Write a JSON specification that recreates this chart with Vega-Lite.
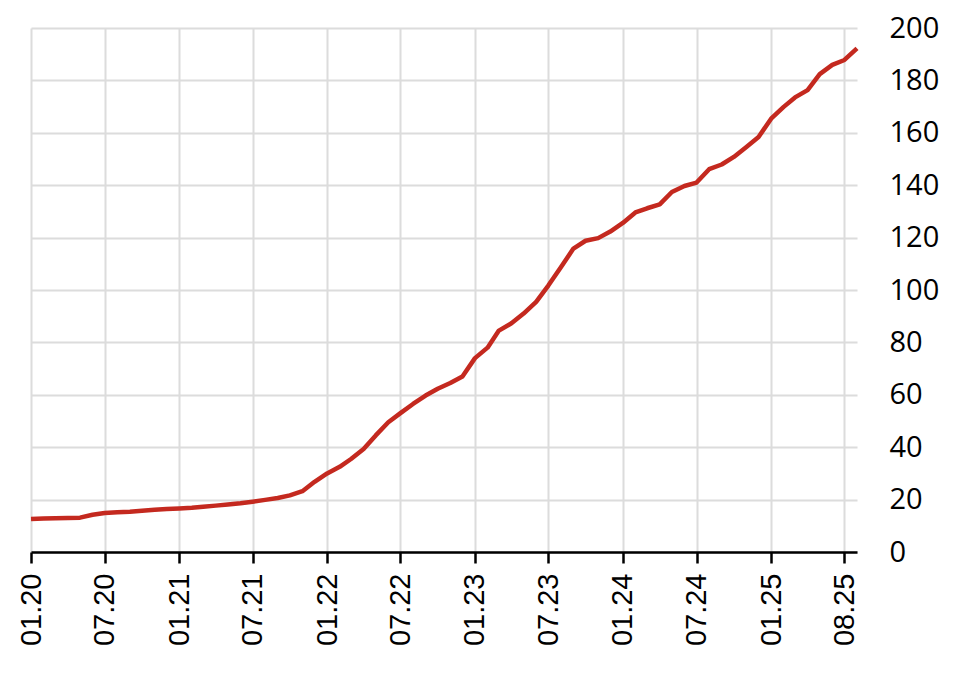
{
  "$schema": "https://vega.github.io/schema/vega-lite/v6.json",
  "autosize": "none",
  "width": 826,
  "height": 524,
  "padding": {"left": 31, "top": 28, "right": 101, "bottom": 122},
  "background": "white",
  "config": {"view": {"stroke": null}},
  "data": {"values": [
    {"date": "2020-01-01", "value": 12.6},
    {"date": "2020-02-01", "value": 12.8},
    {"date": "2020-03-01", "value": 12.9},
    {"date": "2020-04-01", "value": 13.0},
    {"date": "2020-05-01", "value": 13.1},
    {"date": "2020-06-01", "value": 14.2},
    {"date": "2020-07-01", "value": 14.9},
    {"date": "2020-08-01", "value": 15.2},
    {"date": "2020-09-01", "value": 15.4},
    {"date": "2020-10-01", "value": 15.7},
    {"date": "2020-11-01", "value": 16.1},
    {"date": "2020-12-01", "value": 16.4},
    {"date": "2021-01-01", "value": 16.6},
    {"date": "2021-02-01", "value": 16.9},
    {"date": "2021-03-01", "value": 17.3},
    {"date": "2021-04-01", "value": 17.7},
    {"date": "2021-05-01", "value": 18.1},
    {"date": "2021-06-01", "value": 18.6},
    {"date": "2021-07-01", "value": 19.2},
    {"date": "2021-08-01", "value": 19.9},
    {"date": "2021-09-01", "value": 20.6},
    {"date": "2021-10-01", "value": 21.6},
    {"date": "2021-11-01", "value": 23.2},
    {"date": "2021-12-01", "value": 26.8},
    {"date": "2022-01-01", "value": 30.0},
    {"date": "2022-02-01", "value": 32.5},
    {"date": "2022-03-01", "value": 35.5},
    {"date": "2022-04-01", "value": 39.3},
    {"date": "2022-05-01", "value": 44.5},
    {"date": "2022-06-01", "value": 49.5},
    {"date": "2022-07-01", "value": 53.0},
    {"date": "2022-08-01", "value": 56.5},
    {"date": "2022-09-01", "value": 59.7},
    {"date": "2022-10-01", "value": 62.3},
    {"date": "2022-11-01", "value": 64.5},
    {"date": "2022-12-01", "value": 67.0},
    {"date": "2023-01-01", "value": 74.0},
    {"date": "2023-02-01", "value": 78.0},
    {"date": "2023-03-01", "value": 84.5},
    {"date": "2023-04-01", "value": 87.3},
    {"date": "2023-05-01", "value": 91.0},
    {"date": "2023-06-01", "value": 95.5},
    {"date": "2023-07-01", "value": 101.7},
    {"date": "2023-08-01", "value": 108.7},
    {"date": "2023-09-01", "value": 115.8},
    {"date": "2023-10-01", "value": 118.8},
    {"date": "2023-11-01", "value": 119.8},
    {"date": "2023-12-01", "value": 122.3},
    {"date": "2024-01-01", "value": 125.6},
    {"date": "2024-02-01", "value": 129.6},
    {"date": "2024-03-01", "value": 131.2},
    {"date": "2024-04-01", "value": 132.7},
    {"date": "2024-05-01", "value": 137.4},
    {"date": "2024-06-01", "value": 139.7},
    {"date": "2024-07-01", "value": 141.0},
    {"date": "2024-08-01", "value": 146.1},
    {"date": "2024-09-01", "value": 147.9},
    {"date": "2024-10-01", "value": 150.8},
    {"date": "2024-11-01", "value": 154.6},
    {"date": "2024-12-01", "value": 158.4},
    {"date": "2025-01-01", "value": 165.4},
    {"date": "2025-02-01", "value": 169.9},
    {"date": "2025-03-01", "value": 173.5},
    {"date": "2025-04-01", "value": 176.3},
    {"date": "2025-05-01", "value": 182.4},
    {"date": "2025-06-01", "value": 185.9},
    {"date": "2025-07-01", "value": 187.8},
    {"date": "2025-08-01", "value": 192.2}
  ]},
  "mark": {"type": "line", "color": "#c4291f", "strokeWidth": 4.5, "strokeJoin": "round", "clip": false},
  "encoding": {
    "x": {
      "field": "date",
      "type": "temporal",
      "scale": {
        "type": "utc",
        "domain": [
          {"year": 2020, "month": 1, "date": 1, "utc": true},
          {"year": 2025, "month": 8, "date": 1, "utc": true}
        ]
      },
      "axis": {
        "title": null,
        "values": [
          {"year": 2020, "month": 1, "date": 1, "utc": true},
          {"year": 2020, "month": 7, "date": 1, "utc": true},
          {"year": 2021, "month": 1, "date": 1, "utc": true},
          {"year": 2021, "month": 7, "date": 1, "utc": true},
          {"year": 2022, "month": 1, "date": 1, "utc": true},
          {"year": 2022, "month": 7, "date": 1, "utc": true},
          {"year": 2023, "month": 1, "date": 1, "utc": true},
          {"year": 2023, "month": 7, "date": 1, "utc": true},
          {"year": 2024, "month": 1, "date": 1, "utc": true},
          {"year": 2024, "month": 7, "date": 1, "utc": true},
          {"year": 2025, "month": 1, "date": 1, "utc": true},
          {"year": 2025, "month": 7, "date": 1, "utc": true}
        ],
        "labelExpr": "utcFormat(datum.value, '%m.%y') == '07.25' ? '08.25' : utcFormat(datum.value, '%m.%y')",
        "labelAngle": -90,
        "labelAlign": "right",
        "labelBaseline": "middle",
        "labelFont": "Liberation Sans",
        "labelFontSize": 29,
        "labelColor": "#000000",
        "labelPadding": 10,
        "labelOverlap": false,
        "labelFlush": false,
        "domainColor": "#000000",
        "domainWidth": 2.5,
        "tickColor": "#000000",
        "tickWidth": 2.5,
        "tickSize": 11,
        "grid": true,
        "gridColor": "#dcdcdc",
        "gridWidth": 2
      }
    },
    "y": {
      "field": "value",
      "type": "quantitative",
      "scale": {"domain": [0, 200], "nice": false},
      "axis": {
        "orient": "right",
        "title": null,
        "values": [0, 20, 40, 60, 80, 100, 120, 140, 160, 180, 200],
        "labelFont": "Open Sans",
        "labelFontSize": 29,
        "labelColor": "#000000",
        "labelPadding": 32,
        "labelAlign": "left",
        "labelBaseline": "middle",
        "labelOverlap": false,
        "labelFlush": false,
        "ticks": false,
        "tickSize": 0,
        "domain": false,
        "grid": true,
        "gridColor": "#dcdcdc",
        "gridWidth": 2
      }
    }
  }
}
